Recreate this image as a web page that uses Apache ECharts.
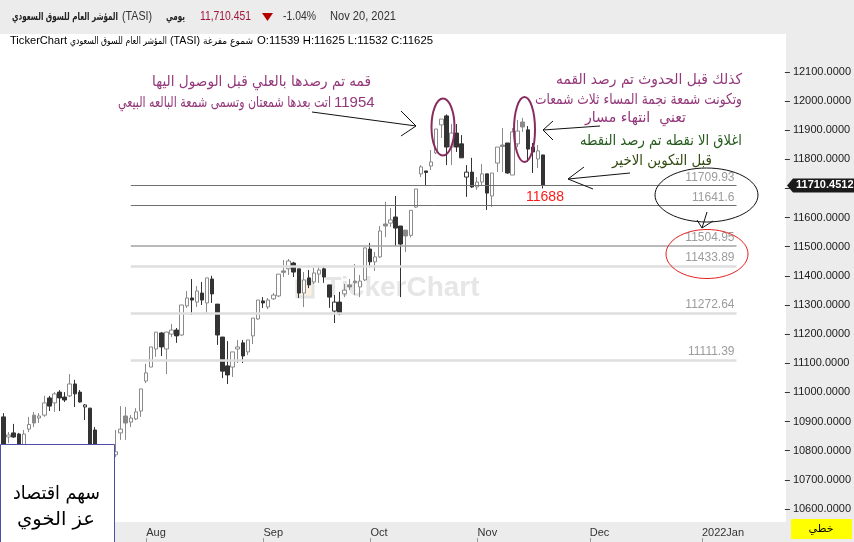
<!DOCTYPE html>
<html><head><meta charset="utf-8">
<script src="https://cdn.jsdelivr.net/npm/echarts@6/dist/echarts.min.js"></script>
<style>html,body{margin:0;padding:0;background:#fff}#c{width:854px;height:542px}</style>
</head><body><div id="c"></div>
<script>
// ---- data (daily OHLC, TASI) ----
const opens  = [10916,10847,10861,10857,10802,10874,10922,10912,10922,10981,10964,11001,10984,10988,11029,11001,10950,10946,10871,10790,10762,10798,10786,10861,10919,10898,10909,10936,11039,11087,11149,11204,11149,11200,11214,11197,11297,11324,11310,11341,11307,11389,11303,11190,11091,11087,11149,11170,11139,11194,11252,11314,11293,11321,11331,11417,11424,11444,11424,11341,11393,11379,11406,11424,11369,11279,11310,11338,11369,11382,11362,11386,11492,11448,11465,11578,11581,11602,11571,11557,11539,11636,11750,11760,11777,11822,11918,11949,11842,11890,11853,11739,11756,11705,11722,11750,11674,11787,11849,11856,11746,11853,11928,11901,11842,11801,11815];
const closes = [10813,10854,10847,10809,10857,10890,10895,10919,10964,10953,10995,10981,10974,11029,10995,10967,10957,10802,10775,10760,10800,10785,10796,10874,10895,10912,10933,11012,11067,11156,11207,11156,11207,11214,11194,11300,11324,11317,11348,11317,11393,11338,11197,11073,11060,11139,11156,11125,11180,11255,11317,11307,11317,11334,11406,11412,11451,11413,11341,11386,11369,11410,11420,11396,11327,11310,11269,11351,11362,11377,11382,11496,11448,11465,11554,11571,11592,11564,11509,11537,11625,11698,11774,11755,11791,11904,11938,11842,11890,11842,11805,11756,11705,11722,11750,11684,11753,11842,11844,11753,11894,11897,11911,11835,11825,11829,11710.4512];
const lows   = [10796,10826,10844,10796,10789,10864,10881,10895,10916,10936,10933,10936,10967,10984,10950,10965,10905,10790,10765,10745,10752,10775,10778,10837,10837,10881,10905,10916,11032,11087,11122,11125,11063,11190,11170,11194,11290,11266,11293,11300,11273,11307,11163,11049,11029,11053,11101,11101,11128,11166,11249,11290,11286,11317,11327,11396,11403,11396,11324,11293,11358,11372,11376,11376,11290,11238,11265,11327,11351,11334,11327,11382,11430,11417,11461,11533,11568,11503,11327,11482,11532,11633,11739,11708,11763,11818,11873,11780,11780,11825,11805,11671,11702,11695,11712,11626,11636,11756,11756,11750,11746,11842,11894,11791,11753,11770,11700];
const highs  = [10929,10864,10892,10861,10871,10916,10933,10929,10988,10988,11001,11008,11001,11063,11043,11008,10960,10947,10881,10800,10812,10815,10871,10953,10950,10922,10946,11012,11098,11156,11207,11207,11208,11235,11221,11300,11348,11389,11365,11379,11393,11400,11303,11190,11176,11139,11180,11180,11180,11255,11317,11327,11324,11341,11406,11454,11458,11448,11424,11413,11420,11427,11434,11430,11369,11334,11345,11372,11389,11441,11403,11496,11513,11482,11571,11654,11633,11674,11571,11557,11625,11698,11780,11760,11832,11904,11938,11954,11921,11921,11883,11780,11805,11739,11784,11750,11753,11842,11907,11856,11907,11935,11942,11914,11856,11849,11815];
const monthLabels   = ['Aug','Sep','Oct','Nov','Dec','2022Jan'];
const monthStartIdx = [28, 51, 72, 93, 115, 137];
const slotCount = 154;           // trading-day slots shown (incl. future space)
const levels      = [11709.93, 11641.6, 11504.95, 11433.89, 11272.64, 11111.39];
const levelLabels = ['11709.93','11641.6','11504.95','11433.89','11272.64','11111.39'];
const hoverIdx = 80;             // candle described in the info line

// ---- styles ----
const levelStyles = [
  {color:'#6f6f6f', width:1}, {color:'#6f6f6f', width:1}, {color:'#a3a3a3', width:1.5},
  {color:'#dedede', width:2.5}, {color:'#dedede', width:2.5}, {color:'#dedede', width:2.5}
];
const LEVEL_START = 25, LEVEL_END = 144;
const DARK = '#333333', GRAY = '#8a8a8a';
const AR = '"DejaVu Sans"', LAT = '"Liberation Sans"';

const cats = Array.from({length: slotCount}, (_, i) => String(i));
const monthOf = {};
monthStartIdx.forEach((idx, k) => monthOf[idx] = monthLabels[k]);

const candleData = opens.map((o, i) => {
  const c = closes[i];
  const prev = i > 0 ? closes[i-1] : Infinity;
  const col = c >= prev ? GRAY : DARK;
  const fill = c > o ? '#ffffff' : col;
  return {value:[o, c, lows[i], highs[i]],
          itemStyle:{color:fill, color0:fill, borderColor:col, borderColor0:col, borderWidth:1}};
});

const chart = echarts.init(document.getElementById('c'), null, {renderer:'canvas'});
chart.setOption({
  animation:false,
  backgroundColor:'#ffffff',
  grid:[
    {left:1, right:68, top:13.6, height:524.5},
    {left:1, right:68, top:522, height:20, show:true, backgroundColor:'#ececec', borderWidth:0}
  ],
  xAxis:[
    {type:'category', data:cats, gridIndex:0, show:false, boundaryGap:true},
    {type:'category', data:cats, gridIndex:1, position:'top', boundaryGap:true, z:10,
     axisLine:{show:true, lineStyle:{color:'#6b6b6b', width:1}},
     axisTick:{show:true, alignWithLabel:true, length:4, interval:(i)=>monthOf[i]!==undefined, lineStyle:{color:'#999'}},
     axisLabel:{inside:true, interval:(i)=>monthOf[i]!==undefined, formatter:(v,i)=>monthOf[i]||'',
                align:'left', margin:5, color:'#333', fontSize:11, fontFamily:'Liberation Sans'}}
  ],
  yAxis:[
    {type:'value', gridIndex:0, position:'right', min:10500, max:12300, interval:100, z:10,
     splitLine:{show:false}, axisLine:{show:false},
     axisTick:{show:true, length:5, lineStyle:{color:'#333'}},
     axisLabel:{margin:8, color:'#1a1a1a', fontSize:11, fontFamily:'Liberation Sans',
                formatter:(v)=> (v>=10600 && v<=12100) ? v.toFixed(4) : ''}},
    {type:'value', gridIndex:1, show:false}
  ],
  series:[{
    type:'candlestick', xAxisIndex:0, yAxisIndex:0, barWidth:4, data:candleData, silent:true,
    markLine:{
      silent:true, symbol:['none','none'], animation:false,
      data: levels.map((v, i) => [
        {coord:[cats[LEVEL_START], v], lineStyle:{color:levelStyles[i].color, width:levelStyles[i].width, type:'solid'},
         label:{show:true, position:'insideEndTop', distance:2, formatter:levelLabels[i], color:'#9c9c9c', fontSize:12, fontFamily:'Liberation Sans'}},
        {coord:[cats[LEVEL_END], v]}
      ])
    }
  }]
});

// ---- text helpers: keep the glyph height, squeeze/stretch horizontally to the reference footprint ----
const mctx = document.createElement('canvas').getContext('2d');
function measure(text, font) { mctx.font = font; return mctx.measureText(text).width; }
function txt(x, y, text, font, fill, align, z) {
  return {type:'text', x:x, y:y, z:z||30,
          style:{text:text, font:font, fill:fill, align:align||'left', textAlign:align||'left',
                 verticalAlign:'middle', textVerticalAlign:'middle'}};
}
function fitTxt(x0, x1, y, text, family, weight, fill, size, z) {
  const font = weight + ' ' + size + 'px ' + family;
  const w = measure(text, font);
  let sx = (x1 - x0) / w;
  sx = Math.max(0.55, Math.min(1.35, sx));
  const el = txt((x0 + x1) / 2, y, text, font, fill, 'center', z);
  el.scaleX = sx;
  return el;
}

const lastClose = closes[closes.length-1];
const py = chart.convertToPixel({yAxisIndex:0}, lastClose);
const PURPLE = '#93387a', GREEN1 = '#25591d', GREEN2 = '#344a12';

const els = [
  // watermark
  {type:'rect', z:1, shape:{x:297, y:281, width:16, height:16}, style:{fill:'#fcf2e2', stroke:'#e4e4e4', lineWidth:3}},
  txt(402, 288, 'TickerChart', 'bold 28px "Liberation Sans"', '#e6e6e6', 'center', 1),
  // right and top chrome
  {type:'rect', z:5, shape:{x:786, y:34, width:68, height:508}, style:{fill:'#ececec'}},
  {type:'rect', z:15, shape:{x:786, y:34, width:68, height:22}, style:{fill:'#ececec'}},
  {type:'rect', z:15, shape:{x:780, y:36, width:6, height:14}, style:{fill:'#ffffff'}},
  {type:'rect', z:15, shape:{x:780, y:528, width:74, height:14}, style:{fill:'#ececec'}},
  {type:'rect', z:15, shape:{x:786, y:516, width:68, height:26}, style:{fill:'#ececec'}},
  {type:'rect', z:16, shape:{x:791, y:519, width:61, height:20}, style:{fill:'#ffff00'}},
  txt(821, 529, 'خطي', '11px ' + AR, '#000', 'center', 17),
  {type:'rect', z:20, shape:{x:0, y:0, width:854, height:34}, style:{fill:'#ececec'}},
  fitTxt(12, 118, 17, 'المؤشر العام للسوق السعودي', AR, 'bold', '#222', 11, 21),
  fitTxt(122, 152, 17, '(TASI)', LAT, 'normal', '#333', 12, 21),
  fitTxt(166, 185, 17, 'يومي', AR, 'bold', '#222', 11, 21),
  fitTxt(200, 251, 17, '11,710.451', LAT, 'normal', '#a0163c', 12, 21),
  {type:'polygon', z:21, shape:{points:[[262,13],[273,13],[267.5,21]]}, style:{fill:'#b30000'}},
  fitTxt(283, 316, 17, '-1.04%', LAT, 'normal', '#333', 12, 21),
  fitTxt(330, 396, 17, 'Nov 20, 2021', LAT, 'normal', '#333', 12, 21),
  // info line
  fitTxt(10, 67, 41, 'TickerChart', LAT, 'normal', '#000', 10.5, 21),
  fitTxt(70, 167, 41, 'المؤشر العام للسوق السعودي', AR, 'normal', '#000', 10, 21),
  fitTxt(170, 200, 41, '(TASI)', LAT, 'normal', '#000', 10.5, 21),
  fitTxt(203, 253, 41, 'شموع مفرغة', AR, 'normal', '#000', 10, 21),
  fitTxt(257, 433, 41, 'O:' + opens[hoverIdx] + ' H:' + highs[hoverIdx] + ' L:' + lows[hoverIdx] + ' C:' + closes[hoverIdx], LAT, 'normal', '#000', 11, 21),
  // last price tag
  {type:'polygon', z:18, shape:{points:[[787,py],[793,py-7],[854,py-7],[854,py+7],[793,py+7]]}, style:{fill:'#1a1a1a'}},
  txt(796, py, lastClose.toFixed(4), 'bold 11px ' + LAT, '#ffffff', 'left', 19),
  // ellipses
  {type:'ellipse', z:30, shape:{cx:443, cy:127, rx:11.5, ry:28.5}, style:{fill:null, stroke:'#8a2b5f', lineWidth:2}},
  {type:'ellipse', z:30, shape:{cx:524.5, cy:129.5, rx:10.5, ry:32.5}, style:{fill:null, stroke:'#8a2b5f', lineWidth:2}},
  {type:'ellipse', z:30, shape:{cx:706.5, cy:195, rx:51.5, ry:27}, style:{fill:null, stroke:'#111', lineWidth:1}},
  {type:'ellipse', z:30, shape:{cx:707, cy:254, rx:41, ry:24.5}, style:{fill:null, stroke:'#e52020', lineWidth:1}},
  // arrows
  {type:'polyline', z:30, shape:{points:[[312,112],[416,126]]}, style:{stroke:'#111', lineWidth:1, fill:null}},
  {type:'polyline', z:30, shape:{points:[[401,111],[416,126],[401,136]]}, style:{stroke:'#111', lineWidth:1, fill:null}},
  {type:'polyline', z:30, shape:{points:[[600,126],[543,130]]}, style:{stroke:'#111', lineWidth:1, fill:null}},
  {type:'polyline', z:30, shape:{points:[[553,121],[543,130],[553,140]]}, style:{stroke:'#111', lineWidth:1, fill:null}},
  {type:'polyline', z:30, shape:{points:[[630,173],[568,179]]}, style:{stroke:'#111', lineWidth:1, fill:null}},
  {type:'polyline', z:30, shape:{points:[[584,167],[568,179],[593,189]]}, style:{stroke:'#111', lineWidth:1, fill:null}},
  {type:'polyline', z:30, shape:{points:[[707,212],[702,228]]}, style:{stroke:'#111', lineWidth:1, fill:null}},
  {type:'polyline', z:30, shape:{points:[[697,220],[702,228],[713,221]]}, style:{stroke:'#111', lineWidth:1, fill:null}},
  // annotation texts
  fitTxt(152, 371, 82, 'قمه تم رصدها بالعلي قبل الوصول اليها', AR, 'normal', PURPLE, 15),
  fitTxt(118, 331, 103, 'اتت بعدها شمعتان وتسمى شمعة البالعه البيعي', AR, 'normal', PURPLE, 15),
  txt(334, 103, '11954', '15px ' + LAT, PURPLE, 'left'),
  fitTxt(556, 742, 80, 'كذلك قبل الحدوث تم رصد القمه', AR, 'normal', PURPLE, 15),
  fitTxt(535, 742, 100, 'وتكونت شمعة نجمة المساء ثلاث شمعات', AR, 'normal', PURPLE, 15),
  fitTxt(585, 686, 118, 'تعني  انتهاء مسار', AR, 'normal', PURPLE, 15),
  fitTxt(580, 742, 141, 'اغلاق الا نقطه تم رصد النقطه', AR, 'normal', GREEN1, 15),
  fitTxt(612, 712, 161, 'قبل التكوين الاخير', AR, 'normal', GREEN2, 15),
  txt(545, 197, '11688', '14px ' + LAT, '#ff1a1a', 'center'),
  // bottom-left box
  {type:'rect', z:40, shape:{x:0.5, y:444.5, width:114, height:100}, style:{fill:'#ffffff', stroke:'#4d4dab', lineWidth:1}},
  fitTxt(13, 100, 494, 'سهم اقتصاد', AR, 'normal', '#000', 19, 41),
  fitTxt(17, 95, 520, 'عز الخوي', AR, 'normal', '#000', 19, 41)
];
chart.setOption({graphic:{elements: els}});
</script>
</body></html>
